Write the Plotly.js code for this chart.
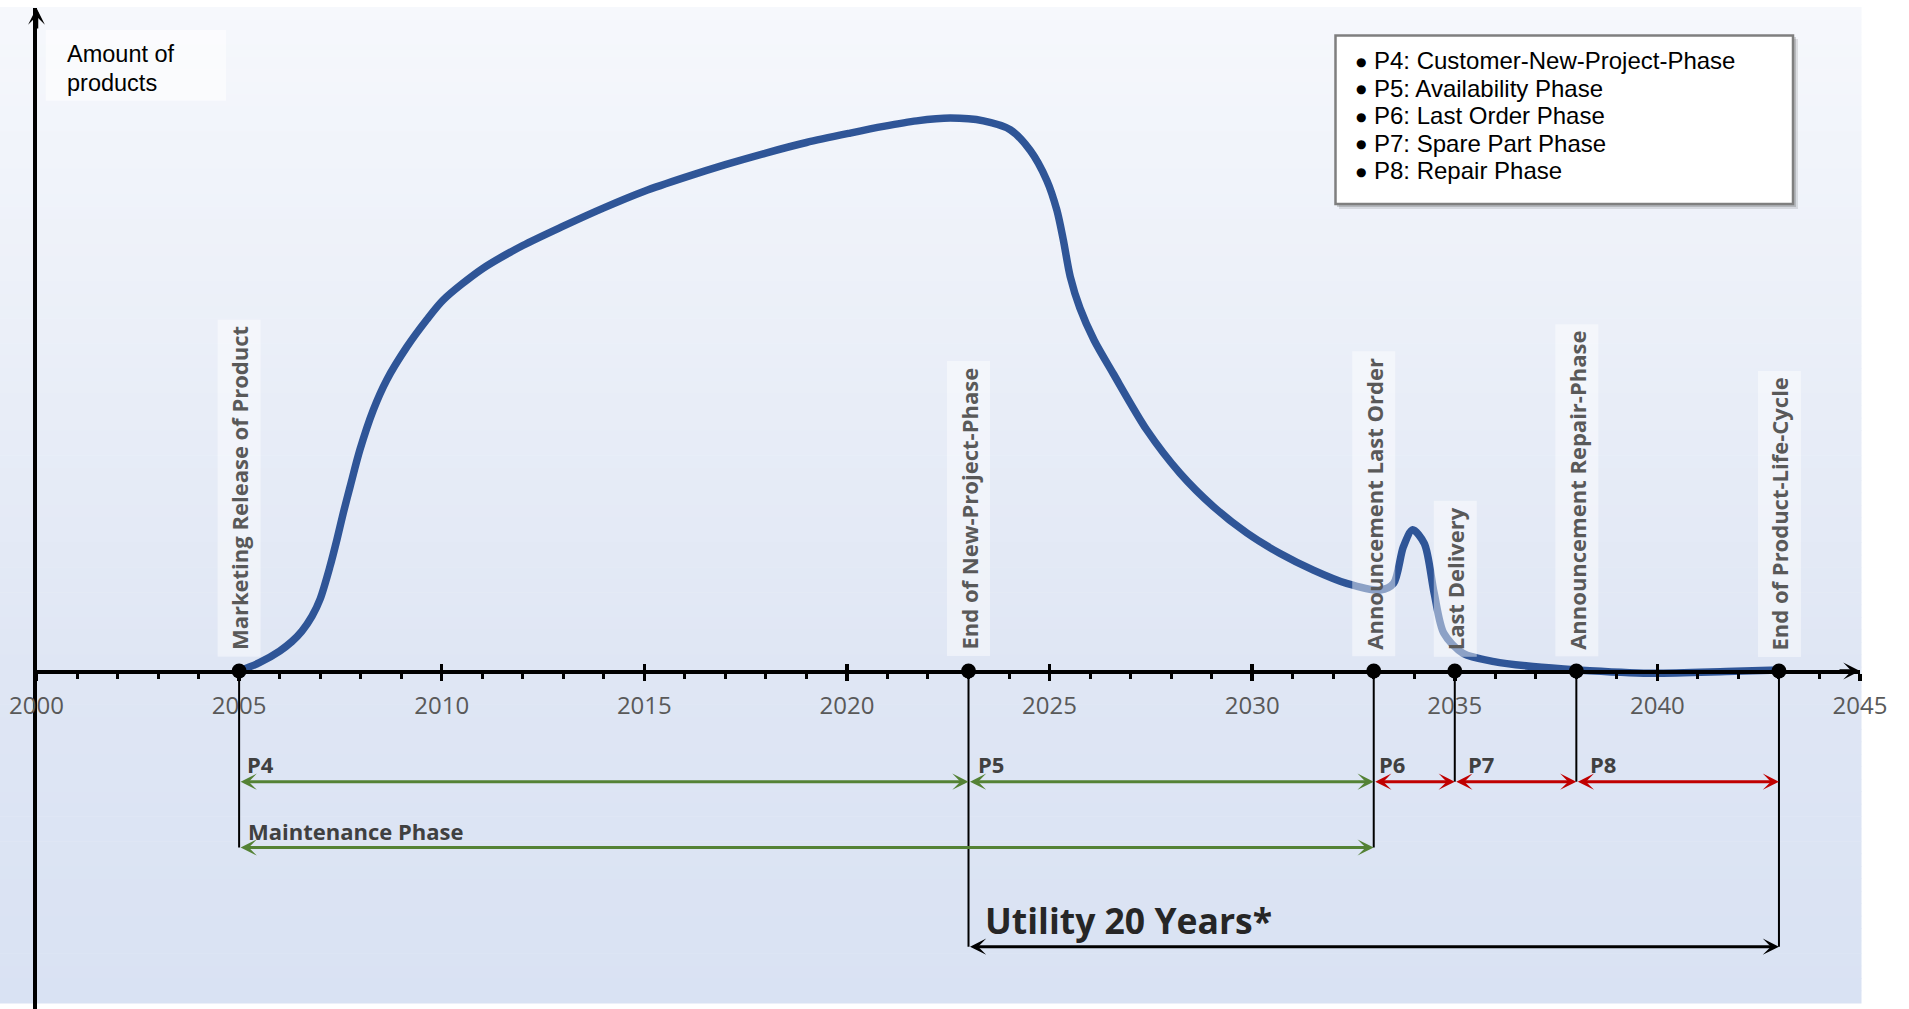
<!DOCTYPE html>
<html>
<head>
<meta charset="utf-8">
<script src="https://cdn.plot.ly/plotly-3.0.1.min.js"></script>
<style>html,body{margin:0;padding:0;background:#fff;}#chart{width:1909px;height:1009px;}</style>
</head>
<body>
<div id="chart"></div>
<script>
// ---------------- DATA ----------------
const curveYears = [2005, 2005.5, 2006.0, 2006.3, 2006.55, 2006.8, 2007.0, 2007.24, 2007.41, 2007.57, 2007.74, 2007.98, 2008.31, 2008.64, 2009.14, 2009.63, 2010.04, 2011, 2012, 2013, 2014, 2015, 2016, 2017, 2018, 2019, 2020.08, 2020.9, 2021.72, 2022.55, 2023.37, 2024.03, 2024.52, 2024.93, 2025.18, 2025.34, 2025.51, 2025.75, 2026.1, 2026.57, 2027.4, 2028.22, 2029.04, 2029.87, 2030.69, 2031.51, 2032.33, 2033.16, 2033.49, 2033.73, 2033.96, 2034.25, 2034.49, 2034.73, 2035.2, 2035.97, 2036.93, 2038.03, 2039.8, 2041.7, 2043];
const curveAmount = [0, 1.5, 3.6, 5.3, 7.2, 9.9, 13.0, 18.8, 23.6, 28.5, 33.3, 39.9, 47.1, 52.5, 58.5, 63.4, 67.0, 72.6, 76.8, 80.3, 83.6, 86.6, 89.1, 91.4, 93.5, 95.4, 97.1, 98.3, 99.3, 99.8, 99.3, 97.7, 94.0, 88.6, 83.2, 77.8, 71.2, 65.5, 59.7, 53.7, 43.5, 35.7, 29.7, 24.9, 21.2, 18.2, 15.8, 14.6, 15.8, 22.4, 25.5, 23.0, 14.1, 6.8, 3.2, 1.7, 0.8, 0.2, -0.4, -0.1, 0.2];

const eventYears  = [2005, 2023, 2033, 2035, 2038, 2043];
const eventLabels = ['Marketing Release of Product', 'End of New-Project-Phase', 'Announcement Last Order', 'Last Delivery', 'Announcement Repair-Phase', 'End of Product-Life-Cycle'];

const phaseNames = ['P4', 'P5', 'P6', 'P7', 'P8'];
const phaseStart = [2005, 2023, 2033, 2035, 2038];
const phaseEnd   = [2023, 2033, 2035, 2038, 2043];
const phaseDescriptions = ['Customer-New-Project-Phase', 'Availability Phase', 'Last Order Phase', 'Spare Part Phase', 'Repair Phase'];

const maintenanceName = 'Maintenance Phase';
const maintenanceStart = 2005, maintenanceEnd = 2033;
const utilityName = 'Utility 20 Years*';
const utilityStart = 2023, utilityEnd = 2043;

const xTickStart = 2000, xTickEnd = 2045, xTickStep = 5;
const yAxisLabel = ['Amount of', 'products'];

// ---------------- LAYOUT HELPERS ----------------
const W = 1909, H = 1009;
const AXIS_PX = 671;          // pixel row of the time axis
const PX_PER_UNIT = 5.54;     // vertical pixels per amount unit
const TOP_PX = 8;
const X0_PX = 36.5, X1_PX = 1860;
const yFromPx = py => (AXIS_PX - py) / PX_PER_UNIT;
const px = x => x / W;
const py = y => 1 - y / H;

const ROW_P = 781.7, ROW_M = 847.5, ROW_U = 946.7;
const dropTo = [ROW_M, ROW_U, ROW_M, ROW_P, ROW_P, ROW_U];
const phaseColor = ['#548235', '#548235', '#c00000', '#c00000', '#c00000'];
const phaseLabelShift = [5.5, 7.5, 3, 11, 12];

const shapes = [];
const annotations = [];

// background gradient
const bgTop = TOP_PX - 1, bgBot = 1003, NSTR = 80;
const cTop = [246, 248, 252], cMid = [223, 230, 244], cBot = [217, 226, 243];
for (let i = 0; i < NSTR; i++) {
  const a = bgTop + (bgBot - bgTop) * i / NSTR;
  const b = bgTop + (bgBot - bgTop) * (i + 1) / NSTR;
  const m = (a + b) / 2;
  let c;
  if (m < AXIS_PX) { const t = (m - bgTop) / (AXIS_PX - bgTop); c = cTop.map((v, k) => v + (cMid[k] - v) * t); }
  else { const t = (m - AXIS_PX) / (bgBot - AXIS_PX); c = cMid.map((v, k) => v + (cBot[k] - v) * t); }
  shapes.push({type: 'rect', xref: 'paper', yref: 'paper', layer: 'below',
    x0: 0, x1: px(1861.5), y0: py(b + 0.6), y1: py(a),
    fillcolor: `rgb(${c.map(Math.round).join(',')})`, line: {width: 0}});
}

// y-axis label box
shapes.push({type: 'rect', xref: 'paper', yref: 'paper', layer: 'below',
  x0: px(45.7), x1: px(226), y0: py(100.7), y1: py(30),
  fillcolor: 'rgba(255,255,255,0.55)', line: {width: 0}});
yAxisLabel.forEach((t, i) => annotations.push({
  xref: 'paper', yref: 'paper', x: px(64.5), y: py(54.3 + i * 28.4), xanchor: 'left', yanchor: 'middle',
  text: t, showarrow: false, font: {family: 'Liberation Sans, Arial, sans-serif', size: 23.5, color: '#000'}
}));

// legend box with shadow
shapes.push({type: 'rect', xref: 'paper', yref: 'paper', layer: 'below',
  x0: px(1339), x1: px(1798), y0: py(209), y1: py(39), fillcolor: 'rgba(0,0,0,0.10)', line: {width: 0}});
shapes.push({type: 'rect', xref: 'paper', yref: 'paper', layer: 'below',
  x0: px(1337), x1: px(1796), y0: py(207), y1: py(37), fillcolor: 'rgba(0,0,0,0.16)', line: {width: 0}});
shapes.push({type: 'rect', xref: 'paper', yref: 'paper', layer: 'below',
  x0: px(1335.5), x1: px(1793), y0: py(204), y1: py(35.5), fillcolor: '#ffffff', line: {color: '#7f7f7f', width: 2.5}});
phaseNames.forEach((n, i) => {
  annotations.push({
    xref: 'paper', yref: 'paper', x: px(1361), y: py(61.5 + i * 27.5), xanchor: 'center', yanchor: 'middle',
    text: '\u25CF', showarrow: false, font: {family: 'DejaVu Sans, sans-serif', size: 12, color: '#000'}
  });
  annotations.push({
    xref: 'paper', yref: 'paper', x: px(1372), y: py(60.7 + i * 27.5), xanchor: 'left', yanchor: 'middle',
    text: n + ': ' + phaseDescriptions[i], showarrow: false,
    font: {family: 'Liberation Sans, Arial, sans-serif', size: 24, color: '#000'}
  });
});

// drop lines from the axis
eventYears.forEach((yr, i) => shapes.push({
  type: 'line', xref: 'x', yref: 'y', x0: yr, x1: yr, y0: 0, y1: yFromPx(dropTo[i]),
  line: {color: '#000', width: 2}, layer: 'above'
}));

// event labels (rotated)
eventYears.forEach((yr, i) => annotations.push({
  xref: 'x', yref: 'y', x: yr, y: 0, yshift: 14, xanchor: 'center', yanchor: 'bottom',
  text: eventLabels[i], textangle: -90, showarrow: false,
  bgcolor: 'rgba(255,255,255,0.45)', borderpad: 6,
  font: {family: 'Open Sans, sans-serif', size: 22, color: '#595959', weight: 700}
}));

// double arrow helper
function dblArrow(x0, x1, yv, color) {
  annotations.push({
    xref: 'x', yref: 'y', axref: 'x', ayref: 'y', x: x1, y: yv, ax: x0, ay: yv,
    text: '', showarrow: true, arrowside: 'end+start',
    arrowhead: 3, startarrowhead: 3, arrowsize: 0.9, startarrowsize: 0.9,
    arrowwidth: 3, arrowcolor: color, standoff: 0, startstandoff: 0
  });
}
function rowLabel(x, yv, text, shiftX, shiftY, size, color) {
  annotations.push({
    xref: 'x', yref: 'y', x: x, y: yv, xshift: shiftX, yshift: shiftY, xanchor: 'left', yanchor: 'middle',
    text: text, showarrow: false, font: {family: 'Open Sans, sans-serif', size: size, color: color, weight: 700}
  });
}
phaseNames.forEach((n, i) => {
  dblArrow(phaseStart[i], phaseEnd[i], yFromPx(ROW_P), phaseColor[i]);
  rowLabel(phaseStart[i], yFromPx(ROW_P), n, phaseLabelShift[i], 18, 22, '#404040');
});
dblArrow(maintenanceStart, maintenanceEnd, yFromPx(ROW_M), '#548235');
rowLabel(maintenanceStart, yFromPx(ROW_M), maintenanceName, 6.5, 16.5, 22, '#404040');
dblArrow(utilityStart, utilityEnd, yFromPx(ROW_U), '#000000');
rowLabel(utilityStart, yFromPx(ROW_U), utilityName, 14.5, 27, 35.5, '#262626');

// axis arrowheads
annotations.push({xref: 'x', yref: 'y', x: xTickEnd, y: 0, ax: -22, ay: 0, text: '', showarrow: true,
  arrowhead: 3, arrowsize: 0.8, arrowwidth: 3.5, arrowcolor: '#000', standoff: 0});
annotations.push({xref: 'x', yref: 'y', x: xTickStart, y: yFromPx(TOP_PX), ax: 0, ay: 22, text: '', showarrow: true,
  arrowhead: 3, arrowsize: 0.8, arrowwidth: 3.5, arrowcolor: '#000', standoff: 0});

// ---------------- TRACES ----------------
const traces = [
  {type: 'scatter', mode: 'lines', x: curveYears, y: curveAmount, hoverinfo: 'skip',
   line: {color: '#2f5597', width: 7.5, shape: 'spline', smoothing: 0.8}},
  {type: 'scatter', mode: 'markers', x: eventYears, y: eventYears.map(() => 0), hoverinfo: 'skip', cliponaxis: false,
   marker: {color: '#000', size: 15}},
  {type: 'scatter', mode: 'markers', x: [xTickStart], y: [0], xaxis: 'x2', hoverinfo: 'skip',
   marker: {opacity: 0, size: 1}}
];

const xPos = py(AXIS_PX);
const layout = {
  width: W, height: H, margin: {l: 0, r: 0, t: 0, b: 0, pad: 0},
  paper_bgcolor: '#ffffff', plot_bgcolor: 'rgba(0,0,0,0)', showlegend: false,
  xaxis: {domain: [px(X0_PX), px(X1_PX)], range: [xTickStart, xTickEnd], anchor: 'free', position: xPos,
    showline: true, linecolor: '#000', linewidth: 3.5, showgrid: false, zeroline: false,
    tick0: xTickStart, dtick: xTickStep, ticks: 'outside', ticklen: 7, tickwidth: 3.5, tickcolor: '#000',
    tickfont: {family: 'Open Sans, sans-serif', size: 24, color: '#595959'}, ticklabelstandoff: 5,
    minor: {dtick: 1, ticks: 'outside', ticklen: 5, tickwidth: 3, tickcolor: '#000', showgrid: false},
    fixedrange: true},
  xaxis2: {domain: [px(X0_PX), px(X1_PX)], range: [xTickStart, xTickEnd], anchor: 'free', position: xPos,
    overlaying: 'x', showline: false, showgrid: false, zeroline: false, showticklabels: false,
    tick0: xTickStart, dtick: xTickStep, ticks: 'inside', ticklen: 7, tickwidth: 3.5, tickcolor: '#000', fixedrange: true},
  yaxis: {domain: [0, py(TOP_PX)], range: [yFromPx(H), yFromPx(TOP_PX)], showline: true, linecolor: '#000', linewidth: 3.5,
    showgrid: false, zeroline: false, showticklabels: false, ticks: '', fixedrange: true},
  shapes: shapes,
  annotations: annotations
};

Plotly.newPlot('chart', traces, layout, {displayModeBar: false, staticPlot: true});
</script>
</body>
</html>
